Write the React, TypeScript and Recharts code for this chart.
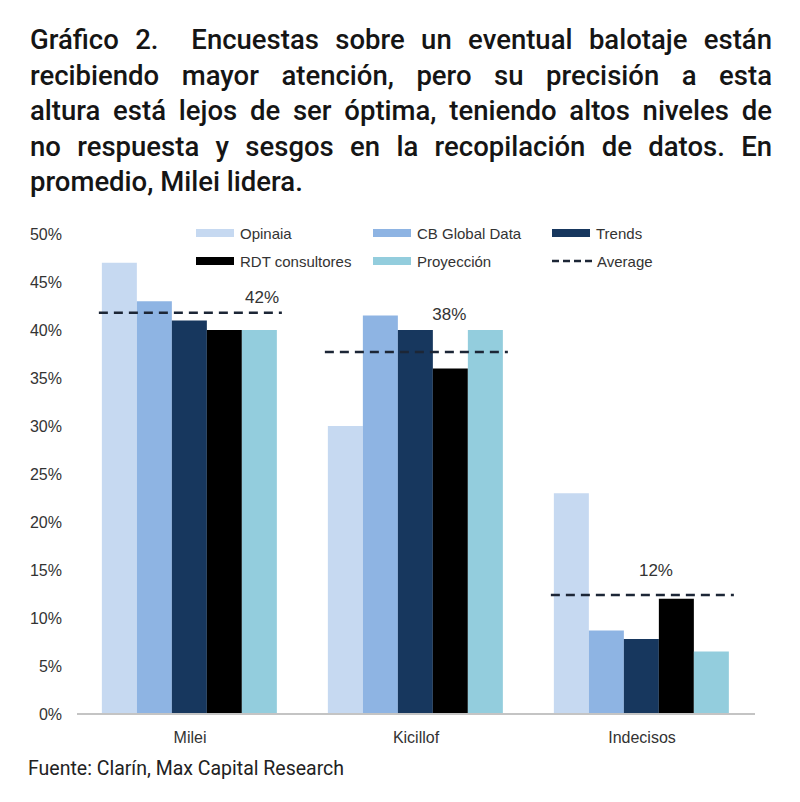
import React from "react";
import { BarChart, Bar, XAxis, YAxis } from "recharts";

const categories = ["Milei", "Kicillof", "Indecisos"];
const opinaia = [47, 30, 23];
const cbGlobal = [43, 41.5, 8.7];
const trends = [41, 40, 7.8];
const rdt = [40, 36, 12];
const proyeccion = [40, 40, 6.5];
const average = [41.8, 37.7, 12.4];
const averageLabels = ["42%", "38%", "12%"];
const yTicks = [0, 5, 10, 15, 20, 25, 30, 35, 40, 45, 50];

const seriesNames = ["Opinaia", "CB Global Data", "Trends", "RDT consultores", "Proyección"];
const seriesKeys = ["opinaia", "cbGlobal", "trends", "rdt", "proyeccion"];
const seriesColors = ["#C6D9F1", "#8EB4E3", "#17375E", "#000000", "#93CDDD"];

const data = categories.map((c, i) => ({
  name: c,
  opinaia: opinaia[i],
  cbGlobal: cbGlobal[i],
  trends: trends[i],
  rdt: rdt[i],
  proyeccion: proyeccion[i],
  avg: average[i],
  avgLabel: averageLabels[i],
}));

const titleLines = [
  "Gráfico 2.  Encuestas sobre un eventual balotaje están",
  "recibiendo mayor atención, pero su precisión a esta",
  "altura está lejos de ser óptima, teniendo altos niveles de",
  "no respuesta y sesgos en la recopilación de datos. En",
  "promedio, Milei lidera.",
];

const chartFont = "Liberation Sans, Arial, sans-serif";

const labelPlacement = [
  { fx: 0.91, dy: -15 },
  { fx: 0.69, dy: -38 },
  { fx: 0.58, dy: -24 },
];

const AvgShape = (props: any) => {
  const { x, y, width, index, payload } = props;
  const p = labelPlacement[index] || { fx: 0.75, dy: -20 };
  return (
    <g>
      <line
        x1={x - 3}
        x2={x + width + 4}
        y1={y}
        y2={y}
        stroke="#1c2636"
        strokeWidth={2.5}
        strokeDasharray="9 6"
      />
      <text
        x={x + width * p.fx}
        y={y + p.dy}
        textAnchor="middle"
        dominantBaseline="central"
        fontSize={17}
        fill="#333"
        fontFamily={chartFont}
      >
        {payload.avgLabel}
      </text>
    </g>
  );
};

const legendCols = [196, 373, 552];
const legendRows = [233, 261];

const LegendItem = ({ i, left, top }: any) => {
  const isAvg = i === 5;
  return (
    <div style={{ position: "absolute", left, top: top - 10, height: 20, display: "flex", alignItems: "center" }}>
      {isAvg ? (
        <svg width={40} height={8} style={{ marginRight: 5 }}>
          <line x1={0} x2={40} y1={4} y2={4} stroke="#1c2636" strokeWidth={2.5} strokeDasharray="7 4" />
        </svg>
      ) : (
        <div style={{ width: 38, height: 8, background: seriesColors[i], marginRight: 6 }} />
      )}
      <span style={{ fontSize: 15, color: "#333", fontFamily: chartFont }}>
        {isAvg ? "Average" : seriesNames[i]}
      </span>
    </div>
  );
};

export default function App() {
  return (
    <div style={{ position: "absolute", left: 0, top: 0, width: 800, height: 802, background: "#fff", overflow: "hidden" }}>
      <div
        style={{
          position: "absolute",
          left: 30,
          top: 22,
          width: 742,
          fontFamily: "Roboto, sans-serif",
          fontWeight: 500,
          fontSize: 27.5,
          lineHeight: "35.5px",
          color: "#151515",
        }}
      >
        {titleLines.map((l, i) => (
          <div
            key={i}
            style={{
              textAlign: "justify",
              textAlignLast: i < titleLines.length - 1 ? "justify" : "left",
              whiteSpace: "pre-wrap",
            }}
          >
            {l}
          </div>
        ))}
      </div>

      {[0, 1, 2, 3, 4, 5].map((i) => (
        <LegendItem key={i} i={i} left={legendCols[i % 3]} top={legendRows[Math.floor(i / 3)]} />
      ))}

      <div style={{ position: "absolute", left: 0, top: 220 }}>
        <BarChart
          width={800}
          height={540}
          data={data}
          margin={{ top: 14, right: 45, bottom: 16, left: 27 }}
          barCategoryGap="11%"
          barGap={0}
        >
          <XAxis
            dataKey="name"
            xAxisId="main"
            axisLine={{ stroke: "#c4c4c4", strokeWidth: 2 }}
            tickLine={false}
            tickMargin={12}
            height={30}
            tick={{ fontSize: 16, fill: "#333", fontFamily: chartFont }}
          />
          <XAxis dataKey="name" xAxisId="avg" hide height={0} />
          <YAxis
            domain={[0, 50]}
            ticks={yTicks}
            tickFormatter={(v: number) => `${v}%`}
            axisLine={false}
            tickLine={false}
            tickSize={6}
            tickMargin={9}
            width={50}
            interval={0}
            tick={{ fontSize: 16, fill: "#333", fontFamily: chartFont }}
          />
          {seriesKeys.map((k, i) => (
            <Bar key={k} dataKey={k} xAxisId="main" fill={seriesColors[i]} isAnimationActive={false} />
          ))}
          <Bar dataKey="avg" xAxisId="avg" shape={AvgShape} isAnimationActive={false} />
        </BarChart>
      </div>

      <div
        style={{
          position: "absolute",
          left: 28,
          top: 757,
          fontFamily: "Roboto, sans-serif",
          fontSize: 19.5,
          color: "#222",
          lineHeight: "24px",
        }}
      >
        Fuente: Clarín, Max Capital Research
      </div>
    </div>
  );
}
